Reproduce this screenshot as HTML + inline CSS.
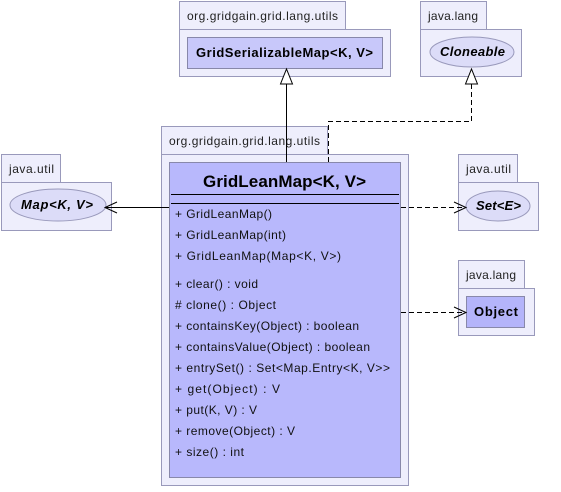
<!DOCTYPE html>
<html><head><style>
body{margin:0;background:#fff;}
text{font-family:"Liberation Sans","DejaVu Sans",sans-serif;}
</style></head><body>
<svg width="561" height="487" xmlns="http://www.w3.org/2000/svg">
<g stroke="#9999bb" stroke-width="1" fill="#eeeefc">
<rect x="179.5" y="1.5" width="166" height="28"/>
<rect x="179.5" y="29.5" width="211" height="47"/>
<rect x="420.5" y="1.5" width="66" height="28"/>
<rect x="420.5" y="29.5" width="101" height="47"/>
<rect x="161.5" y="126.5" width="166" height="28"/>
<rect x="161.5" y="154.5" width="247" height="331"/>
<rect x="1.5" y="154.5" width="59" height="28"/>
<rect x="1.5" y="182.5" width="110" height="48"/>
<rect x="458.5" y="154.5" width="59" height="28"/>
<rect x="458.5" y="182.5" width="80" height="48"/>
<rect x="458.5" y="260.5" width="66" height="28"/>
<rect x="458.5" y="288.5" width="76" height="47"/>
</g>
<g font-size="12" fill="#222">
<text x="187" y="20" textLength="151">org.gridgain.grid.lang.utils</text>
<text x="428" y="20" textLength="50">java.lang</text>
<text x="169" y="145" textLength="151">org.gridgain.grid.lang.utils</text>
<text x="9" y="173" textLength="45">java.util</text>
<text x="466" y="173" textLength="45">java.util</text>
<text x="466" y="279" textLength="50">java.lang</text>
</g>
<rect x="187.5" y="37.5" width="195" height="31" fill="#c8c8fa" stroke="#8888aa"/>
<text x="196" y="57" font-size="13" font-weight="bold" textLength="177">GridSerializableMap&lt;K, V&gt;</text>
<ellipse cx="472" cy="52" rx="42" ry="15" fill="#dcdcf8" stroke="#9999bb"/>
<text x="440" y="56" font-size="13" font-weight="bold" font-style="italic" textLength="65">Cloneable</text>
<ellipse cx="58" cy="205" rx="48" ry="16" fill="#dcdcf8" stroke="#9999bb"/>
<text x="21" y="209" font-size="13" font-weight="bold" font-style="italic" textLength="72">Map&lt;K, V&gt;</text>
<ellipse cx="498" cy="206" rx="32" ry="15" fill="#dcdcf8" stroke="#9999bb"/>
<text x="476" y="210" font-size="13" font-weight="bold" font-style="italic" textLength="45">Set&lt;E&gt;</text>
<rect x="466.5" y="296.5" width="58" height="31" fill="#b4b4fa" stroke="#8888aa"/>
<text x="474" y="316" font-size="13" font-weight="bold" textLength="44">Object</text>
<rect x="169.5" y="162.5" width="231" height="315" fill="#b8b8fc" stroke="#8888aa"/>
<text x="203" y="187" font-size="17" font-weight="bold" textLength="163">GridLeanMap&lt;K, V&gt;</text>
<line x1="171" y1="194.5" x2="399" y2="194.5" stroke="#000"/>
<line x1="171" y1="203.5" x2="399" y2="203.5" stroke="#000"/>
<g font-size="12" fill="#111">
<text x="175" y="218" textLength="97">+ GridLeanMap()</text>
<text x="175" y="239" textLength="111">+ GridLeanMap(int)</text>
<text x="175" y="260" textLength="166">+ GridLeanMap(Map&lt;K, V&gt;)</text>
<text x="175" y="288" textLength="83">+ clear() : void</text>
<text x="175" y="309" textLength="101">#  clone() : Object</text>
<text x="175" y="330" textLength="184">+ containsKey(Object) : boolean</text>
<text x="175" y="351" textLength="195">+ containsValue(Object) : boolean</text>
<text x="175" y="372" textLength="215">+ entrySet() : Set&lt;Map.Entry&lt;K, V&gt;&gt;</text>
<text x="175" y="393" textLength="105">+ get(Object) : V</text>
<text x="175" y="414" textLength="82">+ put(K, V) : V</text>
<text x="175" y="435" textLength="120">+ remove(Object) : V</text>
<text x="175" y="456" textLength="69">+ size() : int</text>
</g>
<g stroke="#000" fill="none">
<line x1="169" y1="207.5" x2="105" y2="207.5"/>
<polyline points="117,202 105,207.5 117,213"/>
<line x1="401" y1="207.5" x2="466" y2="207.5" stroke-dasharray="5,3"/>
<polyline points="454,202 466,207.5 454,213"/>
<line x1="401" y1="312.5" x2="466" y2="312.5" stroke-dasharray="5,3"/>
<polyline points="454,307 466,312.5 454,318"/>
<line x1="286.5" y1="162" x2="286.5" y2="84"/>
<polygon points="280.5,84 292.5,84 286.5,69" fill="#fff"/>
<polyline points="328.5,162 328.5,121.5 471.5,121.5 471.5,84" stroke-dasharray="5,3"/>
<polygon points="465.5,84 477.5,84 471.5,69" fill="#fff"/>
</g>
</svg>
</body></html>
